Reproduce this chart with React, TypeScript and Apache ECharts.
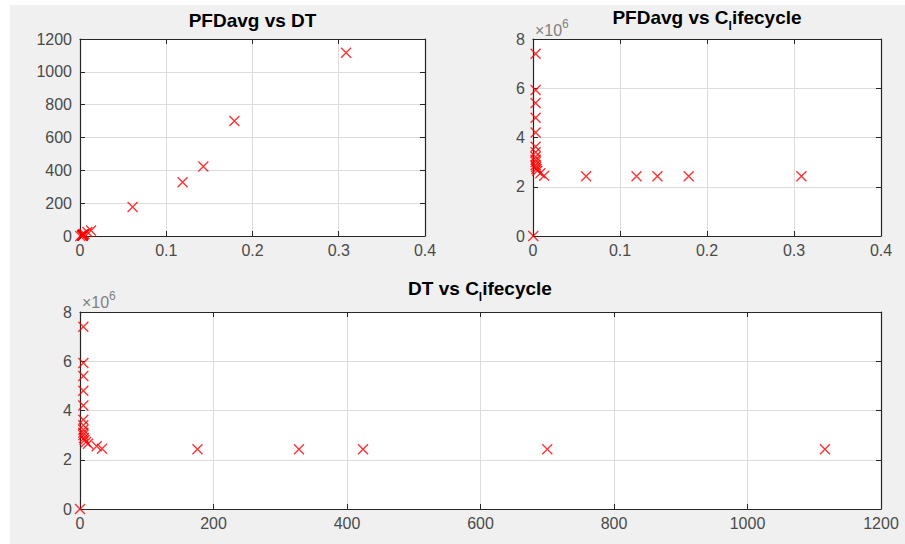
import React, { useEffect, useRef } from "react";
import * as echarts from "echarts";

// Each design point: PFDavg, DT and lifecycle cost (in units of 10^6)
const pfdAvg = [0.3085, 0.179, 0.143, 0.119, 0.061, 0.0128, 0.0085, 0.005, 0.004, 0.0035, 0.003, 0.003, 0.003, 0.003, 0.003, 0.003, 0.003, 0.003, 0.003, 0.003, 0.003, 0.0003];
const dtValues = [1116, 700, 424, 328, 176, 33, 25, 12, 9, 7, 6, 5, 5, 5, 5, 5, 5, 5, 5, 5, 5, 0];
const costMillions = [2.43, 2.43, 2.43, 2.43, 2.43, 2.45, 2.55, 2.65, 2.72, 2.8, 2.88, 3.0, 3.1, 3.22, 3.4, 3.62, 4.2, 4.8, 5.4, 5.93, 7.4, 0];

const pfdTicks = [0, 0.1, 0.2, 0.3, 0.4];
const dtTicksSmall = [0, 200, 400, 600, 800, 1000, 1200];
const costTicks = [0, 2, 4, 6, 8];

const titles = ["PFDavg vs DT", "PFDavg vs C{sub|l}ifecycle", "DT vs C{sub|l}ifecycle"];

const FONT = '"Liberation Sans", Arial, Helvetica, sans-serif';
const AXIS_COLOR = "#262626";
const LABEL_COLOR = "#4a4a4a";
const GRID_COLOR = "#dcdcdc";

function pairs(xs: number[], ys: number[]) {
  return xs.map((x, i) => [x, ys[i]]);
}

function fmtPfd(v: number) {
  return String(Math.round(v * 10) / 10);
}

function axesFor(gridIndex: number, ticks: number[], isX: boolean, fmt: (v: number) => string) {
  const min = ticks[0];
  const max = ticks[ticks.length - 1];
  const interval = ticks[1] - ticks[0];
  const common = {
    gridIndex,
    type: "value",
    min,
    max,
    interval,
    axisLine: { show: true, onZero: false, lineStyle: { color: AXIS_COLOR, width: 1.2 } },
    axisTick: { show: true, inside: true, length: 5, lineStyle: { color: AXIS_COLOR, width: 1 } },
  };
  const primary = {
    ...common,
    position: isX ? "bottom" : "left",
    axisLabel: {
      show: true,
      color: LABEL_COLOR,
      fontSize: 16,
      fontFamily: FONT,
      margin: isX ? 6 : 8,
      formatter: (v: number) => fmt(v),
    },
    splitLine: { show: true, lineStyle: { color: GRID_COLOR, width: 1 } },
  };
  const secondary = {
    ...common,
    position: isX ? "top" : "right",
    axisLabel: { show: false },
    splitLine: { show: false },
  };
  return [primary, secondary];
}

export default function App() {
  const ref = useRef<HTMLDivElement>(null);
  useEffect(() => {
    if (!ref.current) return;
    const chart = echarts.init(ref.current, undefined, { renderer: "svg" });

    const grids = [
      { left: 70, top: 34, width: 345, height: 197 },
      { left: 523, top: 34, width: 348, height: 197 },
      { left: 70, top: 307, width: 801, height: 197 },
    ].map((g) => ({ ...g, show: true, backgroundColor: "#ffffff", borderWidth: 0 }));

    const xAxis = [
      ...axesFor(0, pfdTicks, true, fmtPfd),
      ...axesFor(1, pfdTicks, true, fmtPfd),
      ...axesFor(2, dtTicksSmall, true, (v) => String(v)),
    ];
    const yAxis = [
      ...axesFor(0, dtTicksSmall, false, (v) => String(v)),
      ...axesFor(1, costTicks, false, (v) => String(v)),
      ...axesFor(2, costTicks, false, (v) => String(v)),
    ];

    const marker = {
      symbol: "path://M0,0L10,10M10,0L0,10",
      symbolSize: 10,
      itemStyle: { color: "rgba(0,0,0,0)", borderColor: "#ff0000", borderWidth: 1.4 },
    };

    const series = [
      { type: "scatter", xAxisIndex: 0, yAxisIndex: 0, data: pairs(pfdAvg, dtValues), ...marker },
      { type: "scatter", xAxisIndex: 2, yAxisIndex: 2, data: pairs(pfdAvg, costMillions), ...marker },
      { type: "scatter", xAxisIndex: 4, yAxisIndex: 4, data: pairs(dtValues, costMillions), ...marker },
    ];

    const titleStyle = (text: string) => ({
      text,
      fontSize: 19,
      fontWeight: "bold",
      fontFamily: FONT,
      fill: "#000000",
      align: "center",
      verticalAlign: "middle",
      rich: {
        sub: { fontSize: 12, fontWeight: "bold", fontFamily: FONT, fill: "#000000", verticalAlign: "bottom", lineHeight: 30 },
      },
    });

    const expText = (x: number, y: number) => [
      { type: "text", x, y, style: { text: "×10", fontSize: 16, fontFamily: FONT, fill: "#808080", align: "left", verticalAlign: "middle" } },
      { type: "text", x: x + 27, y: y - 6, style: { text: "6", fontSize: 12, fontFamily: FONT, fill: "#808080", align: "left", verticalAlign: "middle" } },
    ];

    chart.setOption({
      animation: false,
      backgroundColor: "#f0f0f0",
      grid: grids,
      xAxis,
      yAxis,
      series,
      graphic: [
        { type: "text", x: 242.5, y: 15, style: titleStyle(titles[0]) },
        { type: "text", x: 697, y: 12, style: titleStyle(titles[1]) },
        { type: "text", x: 470, y: 283, style: titleStyle(titles[2]) },
        ...expText(525, 25),
        ...expText(72, 297),
      ],
    });
    return () => chart.dispose();
  }, []);

  return (
    <div style={{ position: "fixed", left: 0, top: 0, width: 905, height: 544, background: "#ffffff" }}>
      <div ref={ref} style={{ position: "absolute", left: 10, top: 5, width: 895, height: 539 }} />
    </div>
  );
}
